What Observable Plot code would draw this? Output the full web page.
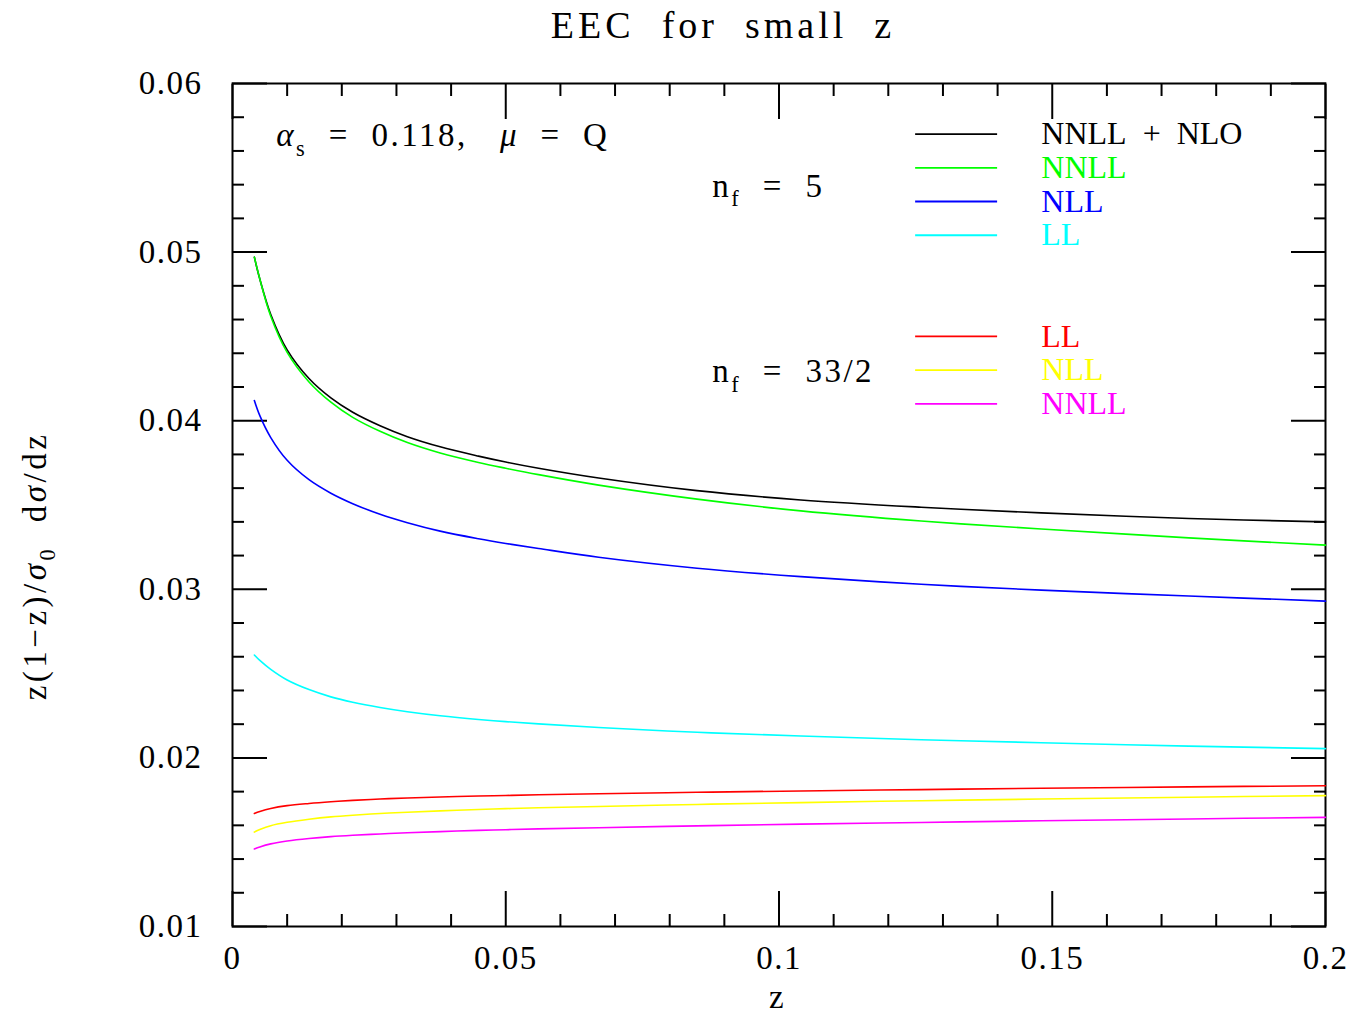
<!DOCTYPE html>
<html>
<head>
<meta charset="utf-8">
<script src="https://cdn.jsdelivr.net/npm/d3@7"></script>
<script src="https://cdn.jsdelivr.net/npm/@observablehq/plot@0.6"></script>
<style>
  body { margin: 0; background: #fff; }
  #chart svg, #chart svg text, #chart svg tspan { font-family: "Liberation Serif", "DejaVu Serif", serif !important; }
</style>
</head>
<body>
<div id="chart"></div>
<script>
// ---------------- data ----------------
const zValues = [0.004, 0.005, 0.007, 0.01, 0.014, 0.018, 0.022, 0.027, 0.032, 0.038, 0.045, 0.05, 0.056, 0.067, 0.085, 0.104, 0.126, 0.148, 0.175, 0.2];

// n_f = 5
const nf5_NNLL_NLO = [0.0497, 0.0484, 0.0463, 0.04420, 0.04250, 0.04135, 0.04050, 0.03970, 0.03905, 0.03845, 0.03790, 0.03755, 0.03718, 0.03660, 0.03585, 0.03530, 0.03487, 0.03453, 0.03420, 0.03400];
const nf5_NNLL     = [0.0497, 0.0484, 0.0462, 0.04405, 0.04230, 0.04110, 0.04020, 0.03937, 0.03870, 0.03808, 0.03752, 0.03718, 0.03680, 0.03618, 0.03535, 0.03465, 0.03405, 0.03358, 0.03305, 0.03262];
const nf5_NLL      = [0.0412, 0.0403, 0.0390, 0.03765, 0.03650, 0.03570, 0.03508, 0.03445, 0.03395, 0.03345, 0.03300, 0.03272, 0.03242, 0.03190, 0.03125, 0.03075, 0.03030, 0.02995, 0.02960, 0.02930];
const nf5_LL       = [0.02610, 0.02578, 0.02525, 0.02462, 0.02405, 0.02362, 0.02330, 0.02299, 0.02274, 0.02250, 0.02228, 0.02215, 0.02202, 0.02180, 0.02152, 0.02130, 0.02108, 0.02090, 0.02070, 0.02055];
// n_f = 33/2
const nf33_LL      = [0.01670, 0.01682, 0.01700, 0.01717, 0.01730, 0.01740, 0.01748, 0.01756, 0.01762, 0.01768, 0.01774, 0.01777, 0.01781, 0.01787, 0.01796, 0.01804, 0.01812, 0.01820, 0.01828, 0.01835];
const nf33_NLL     = [0.01560, 0.01575, 0.01598, 0.01618, 0.01636, 0.01650, 0.01660, 0.01670, 0.01678, 0.01686, 0.01694, 0.01699, 0.01704, 0.01712, 0.01724, 0.01735, 0.01746, 0.01756, 0.01767, 0.01776];
const nf33_NNLL    = [0.01460, 0.01472, 0.01490, 0.01507, 0.01522, 0.01533, 0.01541, 0.01549, 0.01556, 0.01563, 0.01570, 0.01574, 0.01579, 0.01586, 0.01597, 0.01607, 0.01617, 0.01627, 0.01638, 0.01647];

const seriesLabels = ["NNLL  +  NLO", "NNLL", "NLL", "LL", "LL", "NLL", "NNLL"];
const seriesValues = [nf5_NNLL_NLO, nf5_NNLL, nf5_NLL, nf5_LL, nf33_LL, nf33_NLL, nf33_NNLL];
const seriesColors = ["#000000", "#00ff00", "#0000ff", "#00ffff", "#ff0000", "#ffff00", "#ff00ff"];

const xMajorTicks = [0, 0.05, 0.1, 0.15, 0.2];
const xMinorTicks = [0.01, 0.02, 0.03, 0.04, 0.06, 0.07, 0.08, 0.09, 0.11, 0.12, 0.13, 0.14, 0.16, 0.17, 0.18, 0.19];
const xTickLabels = ["0", "0.05", "0.1", "0.15", "0.2"];
const yMajorTicks = [0.01, 0.02, 0.03, 0.04, 0.05, 0.06];
const yMinorTicks = [0.012, 0.014, 0.016, 0.018, 0.022, 0.024, 0.026, 0.028, 0.032, 0.034, 0.036, 0.038, 0.042, 0.044, 0.046, 0.048, 0.052, 0.054, 0.056, 0.058];
const yTickLabels = ["0.01", "0.02", "0.03", "0.04", "0.05", "0.06"];

const titleText = "EEC  for  small  z";
const xLabelText = "z";
const yLabelText = "z(1\u2212z)/σ_0  dσ/dz";
const annotationTexts = ["α_s  =  0.118,   μ  =  Q", "n_f  =  5", "n_f  =  33/2"];

// ---------------- layout (positions in data space) ----------------
const legendRowY = [0.057, 0.055, 0.053, 0.051, 0.045, 0.043, 0.041];
const legendLineX = [0.125, 0.140];
const legendTextX = 0.148;
const annotationX = [0.008, 0.0878, 0.0878];
const annotationY = [0.0569, 0.0539, 0.0429];

// ---------------- build tables ----------------
const lineData = seriesValues.flatMap((vals, i) =>
  zValues.map((z, j) => ({z, v: vals[j], key: i, color: seriesColors[i]})));
const legendData = seriesLabels.map((label, i) => ({label, color: seriesColors[i], y: legendRowY[i]}));
const annData = annotationTexts.map((t, i) => ({t, x: annotationX[i], y: annotationY[i]}));

const font = "Liberation Serif, DejaVu Serif, serif";
const tickStyle = {fill: "none", strokeWidth: 2, label: null};

const plot = Plot.plot({
  width: 1347,
  height: 1014,
  marginLeft: 232,
  marginRight: 22,
  marginTop: 83,
  marginBottom: 88,
  style: {fontFamily: font, fontSize: "33px", color: "black", background: "white", overflow: "visible"},
  x: {domain: [0, 0.2], label: null},
  y: {domain: [0.01, 0.06], label: null},
  color: {type: "identity"},
  marks: [
    // inward ticks on all four sides
    Plot.axisX(xMinorTicks, {anchor: "bottom", tickSize: -12, ...tickStyle}),
    Plot.axisX(xMajorTicks, {anchor: "bottom", tickSize: -35, ...tickStyle}),
    Plot.axisX(xMinorTicks, {anchor: "top", tickSize: -12, ...tickStyle}),
    Plot.axisX(xMajorTicks, {anchor: "top", tickSize: -35, ...tickStyle}),
    Plot.axisY(yMinorTicks, {anchor: "left", tickSize: -12, ...tickStyle}),
    Plot.axisY(yMajorTicks, {anchor: "left", tickSize: -35, ...tickStyle}),
    Plot.axisY(yMinorTicks, {anchor: "right", tickSize: -12, ...tickStyle}),
    Plot.axisY(yMajorTicks, {anchor: "right", tickSize: -35, ...tickStyle}),
    // tick labels
    Plot.axisX(xMajorTicks, {anchor: "bottom", tickSize: 0, tickPadding: 19, label: null,
      tickFormat: d => xTickLabels[xMajorTicks.indexOf(d)], fontSize: 33}),
    Plot.axisY(yMajorTicks, {anchor: "left", tickSize: 0, tickPadding: 30, label: null,
      tickFormat: d => yTickLabels[yMajorTicks.indexOf(d)], fontSize: 33}),
    Plot.frame({stroke: "black", strokeWidth: 2}),
    // curves
    Plot.line(lineData, {x: "z", y: "v", z: "key", stroke: "color", strokeWidth: 1.6, curve: "catmull-rom"}),
    // legend
    Plot.ruleY(legendData, {y: "y", x1: legendLineX[0], x2: legendLineX[1], stroke: "color", strokeWidth: 1.8}),
    Plot.text(legendData, {x: legendTextX, y: "y", text: "label", fill: "color", textAnchor: "start", lineAnchor: "middle", fontSize: 32}),
    // annotations
    Plot.text(annData, {x: "x", y: "y", text: "t", textAnchor: "start", lineAnchor: "middle", fontSize: 33, fill: "black"}),
    // title and axis labels
    Plot.text([titleText], {text: d => d, frameAnchor: "top", textAnchor: "middle", lineAnchor: "middle", dx: -56, dy: -58, fontSize: 38, fill: "black"}),
    Plot.text([xLabelText], {text: d => d, frameAnchor: "bottom", textAnchor: "middle", lineAnchor: "middle", dx: -2, dy: 71, fontSize: 33, fill: "black"}),
    Plot.text([yLabelText], {text: d => d, frameAnchor: "left", textAnchor: "middle", lineAnchor: "middle", rotate: -90, dx: -197, dy: 61, fontSize: 33, fill: "black"})
  ]
});

document.getElementById("chart").appendChild(plot);

// rich text: subscripts (_x), italic greek, preserved spaces
function richText(t) {
  const s = t.textContent;
  if (!/[ _\u03b1-\u03c9]/.test(s)) return;
  const fs = parseFloat(getComputedStyle(t).fontSize) || 33;
  t.textContent = "";
  let pending = 0;
  const re = /_(.)|([\u03b1-\u03c9])|([^_\u03b1-\u03c9]+)/g;
  let m;
  while ((m = re.exec(s))) {
    const ts = document.createElementNS("http://www.w3.org/2000/svg", "tspan");
    if (m[1]) {
      ts.textContent = m[1];
      ts.setAttribute("font-size", (fs * 0.68).toFixed(1));
      ts.setAttribute("dy", (fs * 0.28).toFixed(1));
      pending = -fs * 0.28;
    } else {
      ts.textContent = (m[2] || m[3]).replace(/ /g, "\u00a0");
      if (m[2]) ts.setAttribute("font-style", "italic");
      if (pending) { ts.setAttribute("dy", pending.toFixed(1)); pending = 0; }
    }
    t.appendChild(ts);
  }
}
plot.querySelectorAll("text").forEach(t => {
  const s = t.textContent;
  let spacing = "1.5";
  if (s === titleText) spacing = "4";
  else if (s === yLabelText) spacing = "3.5";
  else if (seriesLabels.includes(s)) spacing = "0";
  else if (annotationTexts.includes(s)) spacing = "2.5";
  richText(t);
  t.setAttribute("letter-spacing", spacing);
});
</script>
</body>
</html>
